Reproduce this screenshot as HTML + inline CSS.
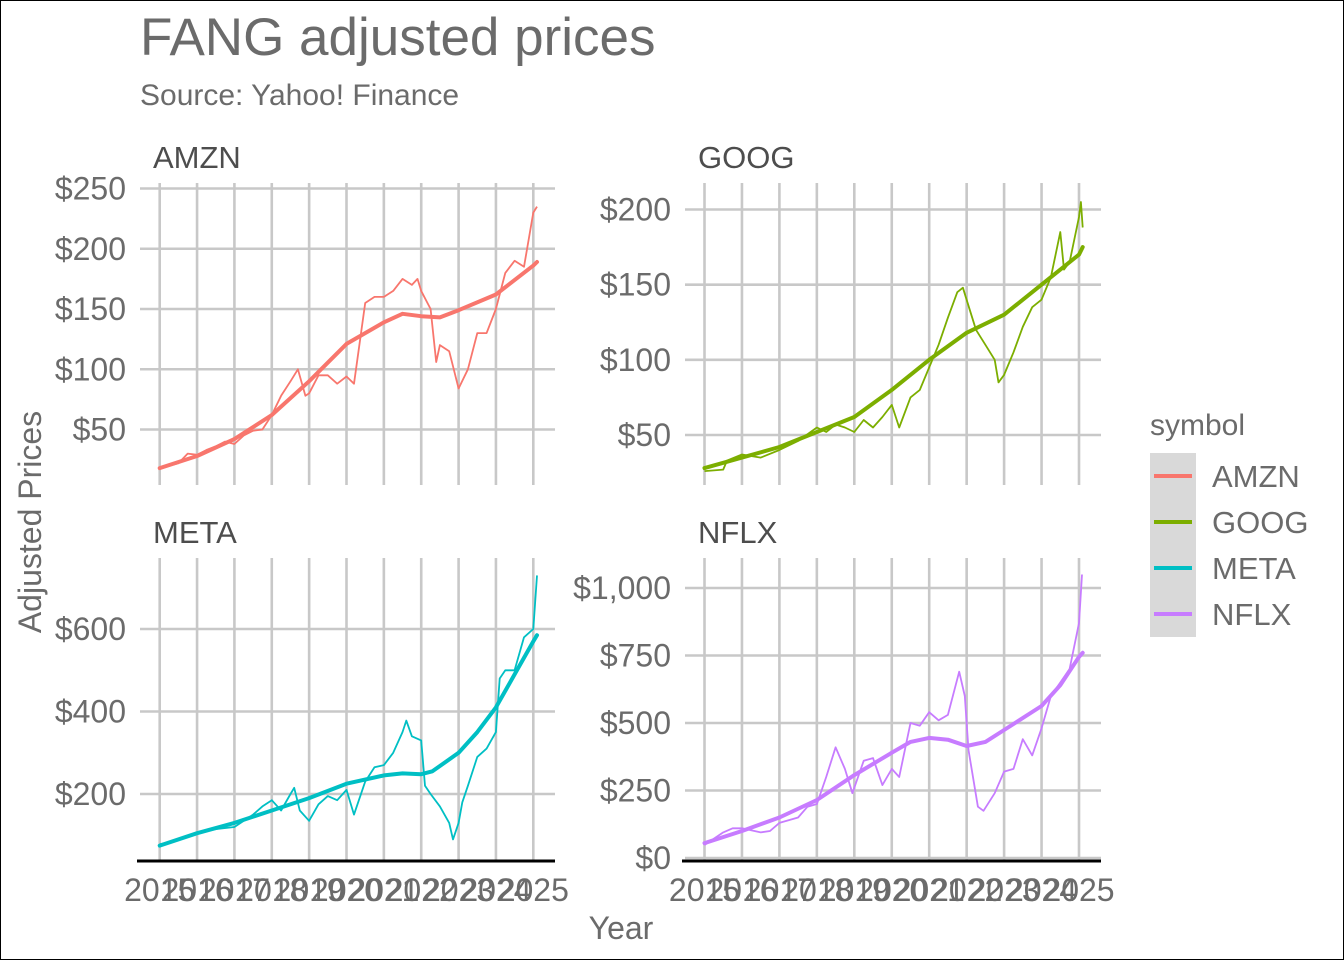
<!DOCTYPE html>
<html><head><meta charset="utf-8">
<style>
html,body{margin:0;padding:0;background:#fff;}
svg{display:block;font-family:"Liberation Sans",Arial,sans-serif;}
</style></head>
<body>
<svg id="chart" width="1344" height="960" viewBox="0 0 1344 960">
<rect x="0.5" y="0.5" width="1343" height="959" fill="#fff" stroke="#000" stroke-width="1"/>
<text x="140" y="55" font-size="53" fill="#6b6b6b">FANG adjusted prices</text>
<text x="140" y="105" font-size="30" fill="#6b6b6b">Source: Yahoo! Finance</text>
<text transform="translate(41,522) rotate(-90)" text-anchor="middle" font-size="32" fill="#6b6b6b">Adjusted Prices</text>
<text x="621" y="939" text-anchor="middle" font-size="32" fill="#6b6b6b">Year</text>
<g id="panels"></g>
<g>
<text x="1150" y="435" font-size="30" fill="#6b6b6b">symbol</text>
<rect x="1150" y="453" width="46" height="184" fill="#d9d9d9"/>
<g id="legend-entries"></g>
</g>
</svg>
<script>
const years = [2015,2016,2017,2018,2019,2020,2021,2022,2023,2024,2025];
const symbols = ["AMZN","GOOG","META","NFLX"];
const colors = ["#F8766D","#7CAE00","#00BFC4","#C77CFF"];

const amznX = [2015,2015.25,2015.5,2015.75,2016,2016.25,2016.5,2016.75,2017,2017.25,2017.5,2017.75,2018,2018.25,2018.5,2018.7,2018.9,2019,2019.25,2019.5,2019.75,2020,2020.2,2020.5,2020.75,2021,2021.25,2021.5,2021.75,2021.9,2022,2022.25,2022.4,2022.5,2022.75,2023,2023.25,2023.5,2023.75,2024,2024.25,2024.5,2024.75,2025,2025.1];
const amznY = [18,20,22,30,29,33,36,40,38,45,49,50,62,78,90,100,78,80,95,95,88,94,88,155,160,160,165,175,170,175,165,150,106,120,115,84,100,130,130,150,180,190,185,230,235];
const amznTrendX = [2015,2016,2017,2018,2019,2020,2021,2021.5,2022,2022.5,2023,2024,2025,2025.1];
const amznTrendY = [18,28,42,62,90,121,139,146,144,143,149,162,186,189];

const googX = [2015,2015.5,2015.6,2016,2016.5,2017,2017.5,2018,2018.25,2018.5,2018.75,2019,2019.25,2019.5,2019.75,2020,2020.2,2020.5,2020.75,2021,2021.25,2021.5,2021.75,2021.9,2022,2022.25,2022.5,2022.75,2022.85,2023,2023.25,2023.5,2023.75,2024,2024.25,2024.5,2024.6,2024.75,2025,2025.05,2025.1];
const googY = [26,27,33,37,35,40,46,55,52,57,55,52,60,55,62,70,55,75,80,95,110,128,145,148,140,120,110,100,85,90,105,122,135,140,155,185,160,165,195,205,188];
const googTrendX = [2015,2016,2017,2018,2019,2020,2021,2022,2023,2024,2025,2025.1];
const googTrendY = [28,35,42,52,62,80,100,118,130,150,170,175];

const metaX = [2015,2015.5,2016,2016.5,2017,2017.5,2017.75,2018,2018.25,2018.5,2018.6,2018.75,2019,2019.25,2019.5,2019.75,2020,2020.2,2020.5,2020.75,2021,2021.25,2021.5,2021.6,2021.75,2022,2022.1,2022.25,2022.5,2022.75,2022.85,2023,2023.1,2023.25,2023.5,2023.75,2024,2024.1,2024.25,2024.5,2024.75,2025,2025.1];
const metaY = [78,88,105,115,120,150,170,185,160,200,215,160,135,175,195,185,210,150,230,265,270,300,350,378,340,330,220,200,170,130,90,130,180,220,290,310,350,480,500,500,580,600,730];
const metaTrendX = [2015,2016,2017,2018,2019,2020,2021,2021.5,2022,2022.3,2023,2023.5,2024,2024.5,2025,2025.1];
const metaTrendY = [75,105,130,160,190,225,245,250,248,255,300,350,410,490,570,585];

const nflxX = [2015,2015.5,2015.75,2016,2016.5,2016.75,2017,2017.5,2017.75,2018,2018.25,2018.5,2018.75,2018.95,2019.25,2019.5,2019.75,2020,2020.2,2020.5,2020.75,2021,2021.25,2021.5,2021.8,2021.95,2022.05,2022.3,2022.45,2022.75,2023,2023.25,2023.5,2023.75,2024,2024.25,2024.5,2024.75,2025,2025.08];
const nflxY = [48,95,110,110,95,100,130,150,190,200,300,410,330,240,360,370,270,330,300,500,490,540,510,530,690,600,400,190,175,240,320,330,440,380,480,600,650,700,870,1050];
const nflxTrendX = [2015,2016,2017,2018,2019,2020,2020.5,2021,2021.5,2022,2022.5,2023,2024,2024.5,2025,2025.1];
const nflxTrendY = [55,100,150,215,307,390,430,445,438,415,430,474,563,640,745,760];

const amznTicks = [50,100,150,200,250];
const googTicks = [50,100,150,200];
const metaTicks = [200,400,600];
const nflxTicks = [0,250,500,750,1000];

const NS = "http://www.w3.org/2000/svg";
function mk(tag, attrs, parent){ const e=document.createElementNS(NS,tag); for(const k in attrs) e.setAttribute(k,attrs[k]); parent.appendChild(e); return e; }
function fmt(v){ return "$" + v.toLocaleString("en-US"); }

const panels = [
  {name:"AMZN", px0:140, px1:555, py0:183, py1:485, x2015:159.7, x2025:533.3, v1:50, p1:429.5, v2:250, p2:188.5, ticks:amznTicks, xs:amznX, ys:amznY, tx:amznTrendX, ty:amznTrendY, bottom:false, col:colors[0]},
  {name:"GOOG", px0:685, px1:1101, py0:183, py1:485, x2015:704.5, x2025:1079, v1:50, p1:435, v2:200, p2:209.5, ticks:googTicks, xs:googX, ys:googY, tx:googTrendX, ty:googTrendY, bottom:false, col:colors[1]},
  {name:"META", px0:140, px1:555, py0:558, py1:860, x2015:159.7, x2025:533.3, v1:200, p1:794, v2:600, p2:629, ticks:metaTicks, xs:metaX, ys:metaY, tx:metaTrendX, ty:metaTrendY, bottom:true, col:colors[2]},
  {name:"NFLX", px0:685, px1:1101, py0:558, py1:860, x2015:704.5, x2025:1079, v1:0, p1:858, v2:1000, p2:588, ticks:nflxTicks, xs:nflxX, ys:nflxY, tx:nflxTrendX, ty:nflxTrendY, bottom:true, col:colors[3]}
];
const root = document.getElementById("panels");
panels.forEach(p=>{
  const g = mk("g",{},root);
  
  
  const xs = v => p.x2015 + (v-2015)*(p.x2025-p.x2015)/10;
  const ys = v => p.p1 + (v-p.v1)*(p.p2-p.p1)/(p.v2-p.v1);
  const strip = mk("text",{x:p.px0+13,y:p.py0-15,"font-size":31,fill:"#4d4d4d"},g);
  strip.textContent = p.name;
  
  
  years.forEach(yr=>{
    const l = mk("line",{x1:xs(yr),x2:xs(yr),y1:p.py0,y2:p.py1,stroke:"#c8c8c8","stroke-width":2.6},g);
    
    
  });
  p.ticks.forEach(t=>{
    const l = mk("line",{x1:p.px0,x2:p.px1,y1:ys(t),y2:ys(t),stroke:"#c8c8c8","stroke-width":2.6},g);
    
    
    const tx = mk("text",{x:p.px0-14,y:ys(t)+11,"text-anchor":"end","font-size":32,fill:"#6b6b6b"},g);
    tx.textContent = fmt(t);
    
    
  });
  if(p.bottom){
    const ax = mk("line",{x1:p.px0-3,x2:p.px1,y1:861,y2:861,stroke:"#000","stroke-width":3},g);
    
    
    years.forEach(yr=>{
      const tx = mk("text",{x:xs(yr),y:901,"text-anchor":"middle","font-size":32,fill:"#6b6b6b"},g);
      tx.textContent = String(yr);
      
      
    });
  }
  const raw = mk("polyline",{points:p.xs.map((x,i)=>xs(x).toFixed(1)+","+ys(p.ys[i]).toFixed(1)).join(" "),fill:"none",stroke:p.col,"stroke-width":1.8,"stroke-linejoin":"round"},g);
  
  
  const tr = mk("polyline",{points:p.tx.map((x,i)=>xs(x).toFixed(1)+","+ys(p.ty[i]).toFixed(1)).join(" "),fill:"none",stroke:p.col,"stroke-width":4,"stroke-linejoin":"round","stroke-linecap":"round"},g);
  
  
});
const lg = document.getElementById("legend-entries");
symbols.forEach((s,i)=>{
  const cy = 476 + i*46;
  const l = mk("line",{x1:1154,x2:1192,y1:cy,y2:cy,stroke:colors[i],"stroke-width":4},lg);
  
  
  const t = mk("text",{x:1212,y:cy+11,"font-size":31,fill:"#6b6b6b"},lg);
  t.textContent = s;
  
  
});
</script>
</body></html>
